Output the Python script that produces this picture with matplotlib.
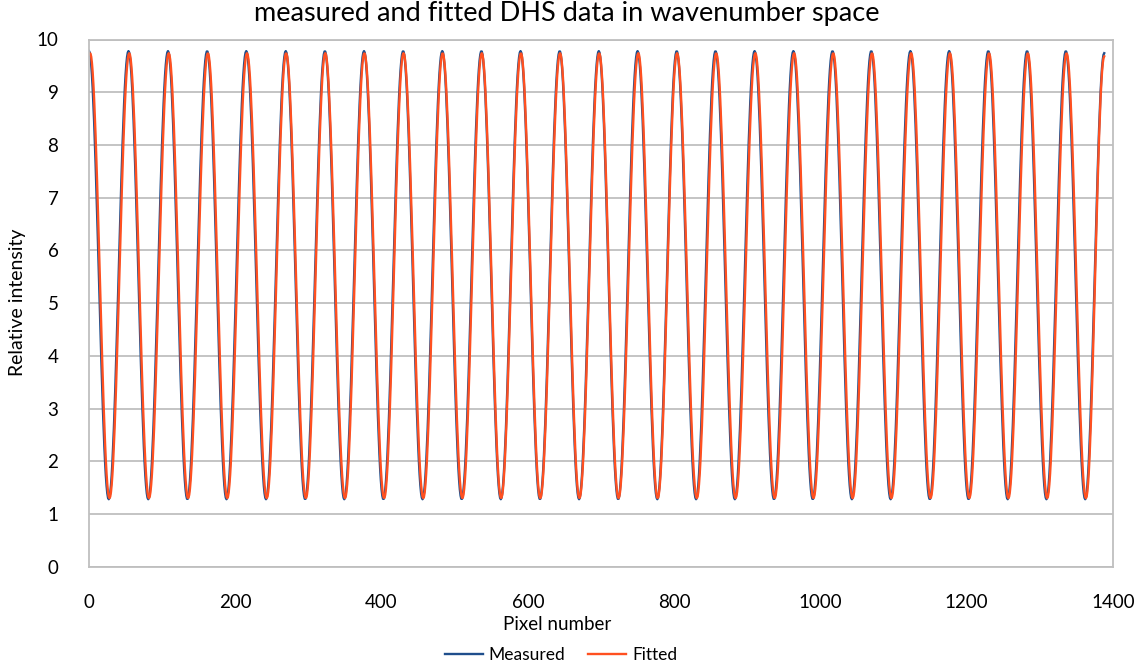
#!/usr/bin/env python
# Measured vs fitted DHS fringe pattern in wavenumber space (Excel-style line chart).
import numpy as np, matplotlib; matplotlib.use("Agg")
import matplotlib.pyplot as plt
from matplotlib.lines import Line2D

plt.rcParams["font.family"] = ["Lato", "DejaVu Sans"]

# extrema (pixel number, relative intensity)
meas_peak_x = [0, 54, 108, 161.5, 215, 269, 322.5, 376, 429.5, 483, 536.5, 590, 643.5,
               697, 750, 803.5, 856.5, 910, 963, 1016.5, 1069.5, 1123, 1176, 1229.5,
               1282.5, 1335.5]
meas_trough_x = [27, 81, 134.5, 188, 242, 295.5, 349, 402.5, 456, 509.5, 563, 616.5, 670,
                 723.5, 777, 830, 883, 936.5, 989.5, 1043, 1096, 1149.5, 1202.5, 1256,
                 1309, 1362]
fit_peak_x = [1.5, 55, 109, 162.5, 216, 269.5, 323, 376.5, 430, 483.5, 537, 590.5, 644,
              697.5, 751, 804, 857.5, 911, 964, 1017.5, 1070.5, 1124, 1177, 1230.5,
              1283.5, 1336.5]
fit_trough_x = [28, 82, 135.5, 189, 243, 296.5, 350, 403.5, 457, 510.5, 563.5, 617, 670.5,
                724, 777.5, 831, 884, 937.5, 990.5, 1044, 1097, 1150.5, 1203.5, 1257,
                1310, 1363]
meas_peak, meas_trough = 9.78, 1.28
fit_peak, fit_trough = 9.74, 1.30
meas_ends = [(0, 9.78), (1388, 9.74)]
fit_ends = [(0, 9.72), (1388, 9.68)]

x = np.arange(0, 1389)


def nodes(peaks, troughs, pv, tv, ends):
    pts = [(p, pv) for p in peaks] + [(t, tv) for t in troughs] + list(ends)
    pts = sorted(dict(pts).items())
    return np.array([p[0] for p in pts], float), np.array([p[1] for p in pts], float)


def wave(xn, yn, xx):
    # half-cosine between successive extrema
    i = np.clip(np.searchsorted(xn, xx, side="right") - 1, 0, len(xn) - 2)
    t = (xx - xn[i]) / (xn[i + 1] - xn[i])
    s = (1 - np.cos(np.pi * t)) / 2
    return yn[i] + (yn[i + 1] - yn[i]) * s


measured = wave(*nodes(meas_peak_x, meas_trough_x, meas_peak, meas_trough, meas_ends), x)
fitted = wave(*nodes(fit_peak_x, fit_trough_x, fit_peak, fit_trough, fit_ends), x)

BLUE, ORANGE, GRID = "#1f4e8c", "#ff5020", "#bfbfbf"

fig = plt.figure(figsize=(11.4, 6.67), dpi=100)
ax = fig.add_axes([89 / 1140, 1 - 566.7 / 667, 1024 / 1140, 527.2 / 667])
ax.plot(x, measured, color=BLUE, lw=1.7, solid_joinstyle="round")
ax.plot(x, fitted, color=ORANGE, lw=1.7, solid_joinstyle="round")

ax.set_xlim(0, 1400); ax.set_ylim(0, 10)
ax.set_xticks(range(0, 1401, 200)); ax.set_yticks(range(0, 11))
ax.grid(axis="y", color=GRID, lw=1.3); ax.set_axisbelow(True)
for s in ax.spines.values():
    s.set_color(GRID); s.set_linewidth(1.3)
ax.tick_params(length=0, labelsize=13.5, colors="black")
ax.tick_params(axis="x", pad=20); ax.tick_params(axis="y", pad=22)

ax.set_xlabel("Pixel number", fontsize=13.5)
ax.xaxis.set_label_coords((557 - 89) / 1024, -(616 - 566.7) / 527.2)
fig.text(18 / 1140, 1 - 302 / 667, "Relative intensity", rotation=90,
         ha="center", va="center", fontsize=14)
fig.text(567 / 1140, 1 - 13 / 667, "measured and fitted DHS data in wavenumber space",
         ha="center", va="center", fontsize=19.5)

fig.legend(handles=[Line2D([], [], color=BLUE, lw=1.7, label="Measured"),
                    Line2D([], [], color=ORANGE, lw=1.7, label="Fitted")],
           loc="center", bbox_to_anchor=(561 / 1140, 1 - 655 / 667), ncol=2,
           frameon=False, fontsize=12.5, handlelength=2.2, columnspacing=1.3,
           handletextpad=0.35)

fig.savefig("out.png", dpi=100)
